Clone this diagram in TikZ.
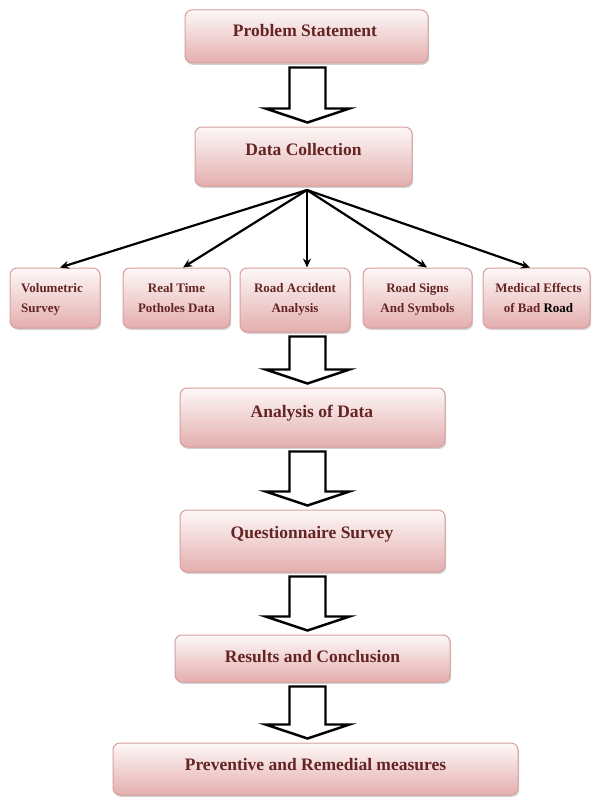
\documentclass[tikz,border=0pt]{standalone}
\usepackage{fontspec}
\setmainfont{Liberation Serif}
\usetikzlibrary{calc,shadows,arrows.meta}
\definecolor{txt}{HTML}{632423}
\definecolor{boxtop}{HTML}{FDF8F8}
\definecolor{boxbot}{HTML}{E4AEAE}
\definecolor{boxline}{HTML}{DA9E9E}
\tikzset{
 boxbase/.style={rectangle, rounded corners=7pt, draw=boxline, line width=1pt, top color=boxtop, bottom color=boxbot,
   drop shadow={shadow xshift=1.2pt, shadow yshift=-1.8pt, opacity=0.3, fill=black!60}, inner sep=0pt},
 bigtxt/.style={font=\fontsize{17.5}{21}\selectfont\bfseries, text=txt, inner sep=0pt, anchor=base},
 smalltxt/.style={font=\fontsize{13}{20}\selectfont\bfseries, text=txt, inner sep=0pt, align=center, anchor=base},
 thinarrow/.style={-{Stealth[length=9pt,width=8pt]}, line width=2.2pt},
 blockarrow/.style={draw=black, fill=white, line width=2.4pt, line join=miter, miter limit=10}
}
\newcommand\blockarr[2]{%
 \draw[blockarrow] ($(#1.south -| ax)+(-18,4)$) -- ($(#1.south -| ax)+(18,4)$)
   -- ($(#2.north -| ax)+(18,-18)$) -- ($(#2.north -| ax)+(42,-18)$)
   -- ($(#2.north -| ax)+(0,-4)$) -- ($(#2.north -| ax)+(-42,-18)$)
   -- ($(#2.north -| ax)+(-18,-18)$) -- cycle;}
\begin{document}
\begin{tikzpicture}[x=1pt,y=-1pt]
\useasboundingbox (0,0) rectangle (592,797);
\coordinate (ax) at (307.5,0);
\coordinate (hub) at (307,190);
% boxes
\node[boxbase, minimum width=243pt, minimum height=53pt] (pb) at (306.5,36.5) {};
\node[boxbase, minimum width=217pt, minimum height=59pt] (dc) at (303.5,156.5) {};
\node[boxbase, minimum width=90pt, minimum height=60pt] (vol) at (55,298) {};
\node[boxbase, minimum width=107pt, minimum height=60pt] (rt) at (176.5,298) {};
\node[boxbase, minimum width=110pt, minimum height=64pt] (ra) at (295,300) {};
\node[boxbase, minimum width=109pt, minimum height=60pt] (rs) at (417.5,298) {};
\node[boxbase, minimum width=107pt, minimum height=60pt] (me) at (536.5,298) {};
\node[boxbase, minimum width=265pt, minimum height=59pt] (an) at (312.5,417.5) {};
\node[boxbase, minimum width=265pt, minimum height=62pt] (qs) at (312.5,541) {};
\node[boxbase, minimum width=275pt, minimum height=47pt] (rc) at (312.5,658.5) {};
\node[boxbase, minimum width=405pt, minimum height=52pt] (pr) at (315.5,769) {};
% texts
\node[bigtxt] (pbt) at (305,37) {Problem Statement};
\node[bigtxt] (dct) at (303.5,155) {Data Collection};
\node[bigtxt] (ant) at (312,417) {Analysis of Data};
\node[bigtxt] (qst) at (312,538) {Questionnaire Survey};
\node[bigtxt] (rct) at (312.5,662) {Results and Conclusion};
\node[bigtxt] (prt) at (315.5,770) {Preventive and Remedial measures};
\node[smalltxt, align=left, anchor=base west] (volt) at (21,312) {Volumetric\\Survey};
\node[smalltxt] (rtt) at (176.5,312) {Real Time\\Potholes Data};
\node[smalltxt] (rat) at (295,312) {Road Accident\\Analysis};
\node[smalltxt] (rst) at (417.5,312) {Road Signs\\And Symbols};
\node[smalltxt] (met) at (538.5,312) {Medical Effects\\of Bad {\color{black}Road}};
% thin arrows
\draw[thinarrow] (hub) -- ($(vol.north)+(5,0)$);
\draw[thinarrow] (hub) -- ($(rt.north)+(6.5,0)$);
\draw[thinarrow] (hub) -- ($(ra.north)+(12,0)$);
\draw[thinarrow] (hub) -- ($(rs.north)+(9.5,0)$);
\draw[thinarrow] (hub) -- ($(me.north)+(-6.5,0)$);
% block arrows
\blockarr{pb}{dc}
\blockarr{ra}{an}
\blockarr{an}{qs}
\blockarr{qs}{rc}
\blockarr{rc}{pr}
\end{tikzpicture}
\end{document}
